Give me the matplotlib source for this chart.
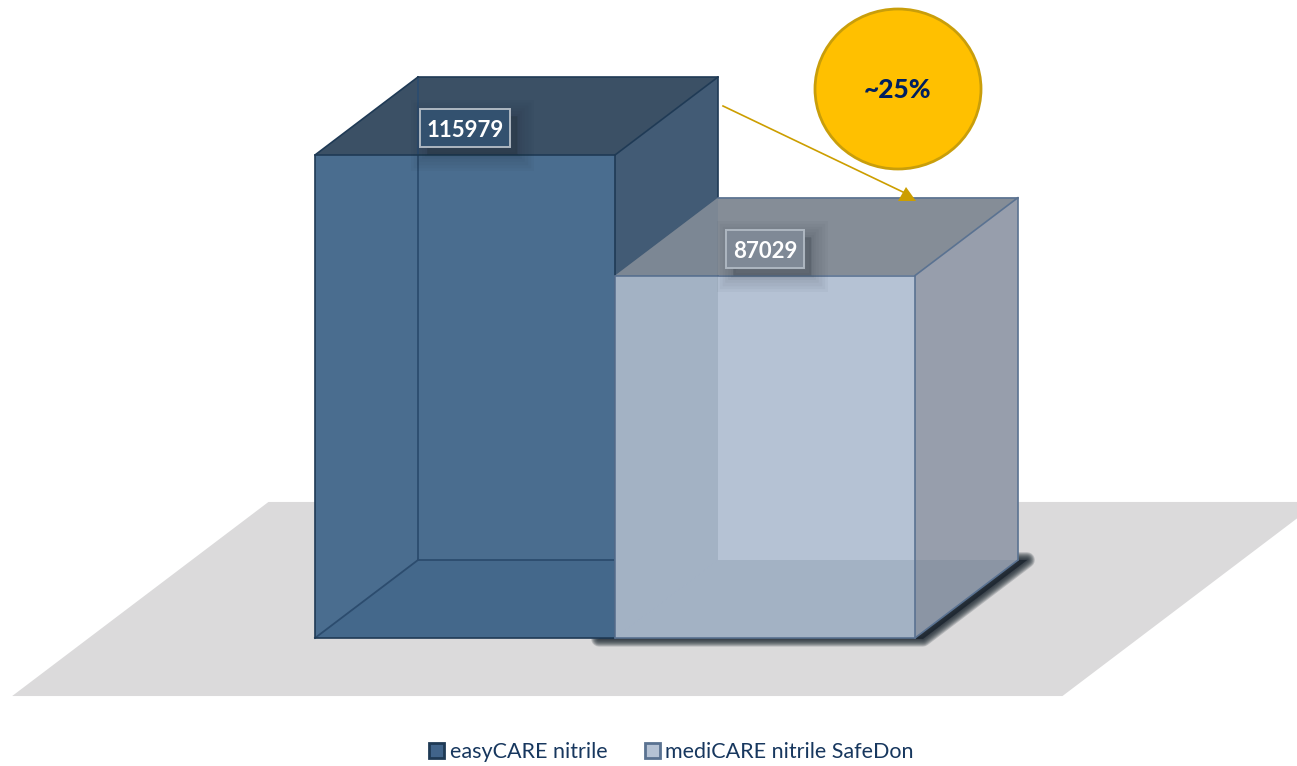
import matplotlib
matplotlib.use('Agg')
import matplotlib.pyplot as plt
from matplotlib.patches import Polygon, Ellipse, Patch, FancyBboxPatch

plt.rcParams['font.family'] = ['Lato', 'DejaVu Sans']

# data
products = ['easyCARE nitrile', 'mediCARE nitrile SafeDon']
counts = [115979, 87029]
note = '~25%'

W, H = 1297, 766
PX_PER_BAR = 300.0          # pixels for one bar width
PX_PER_UNIT = 483 / 115979  # pixels for one count
DEPTH_X = 103 / PX_PER_BAR
DEPTH_Y = 78 / PX_PER_UNIT

TEXT = '#17375E'
styles = [
    dict(front='#4A6D8F', top='#3B5065', side='#425B75', wash='#3E6288', wash_a=0.45,
         edge='#1F3A55', soft='#2C4C6E', swatch='#41648A', swatch_edge='#1F3A55'),
    dict(front='#B5C2D4', top='#858D97', side='#979EAC', wash='#5C7288', wash_a=0.2,
         edge='#5A7291', soft=None, swatch='#B5C2D4', swatch_edge='#5A7291'),
]


def project(x, depth, value):
    return (x + depth * DEPTH_X, value + depth * DEPTH_Y)


def face(ax, pts, color, edge='none', lw=0, alpha=None, z=3):
    ax.add_patch(Polygon([project(*p) for p in pts], closed=True, facecolor=color,
                         edgecolor=edge, linewidth=lw, alpha=alpha, zorder=z, joinstyle='round'))


def draw_box(ax, x, value, st, z):
    x2 = x + 1
    face(ax, [(x, 0, 0), (x2, 0, 0), (x2, 0, value), (x, 0, value)], st['front'], z=z)
    face(ax, [(x, 0, value), (x2, 0, value), (x2, 1, value), (x, 1, value)], st['top'], z=z)
    face(ax, [(x2, 0, 0), (x2, 1, 0), (x2, 1, value), (x2, 0, value)], st['side'], z=z)
    # inner faces seen through the front
    face(ax, [(x, 0, 0), (x2, 0, 0), (x2, 1, 0), (x, 1, 0)], st['wash'], alpha=st['wash_a'], z=z + .1)
    if x > 0:
        face(ax, [(x, 0, 0), (x, 1, 0), (x, 1, value), (x, 0, value)], st['wash'], alpha=st['wash_a'], z=z + .1)
    # inner lines
    if st['soft']:
        for a, b in [((x, 1, 0), (x, 1, value)), ((x, 1, 0), (x2, 1, 0)), ((x, 0, 0), (x, 1, 0))]:
            xs, ys = zip(project(*a), project(*b))
            ax.plot(xs, ys, color=st['soft'], lw=1.3, zorder=z + .2)
    # outer lines
    for a, b in [((x, 0, 0), (x2, 0, 0)), ((x2, 0, 0), (x2, 0, value)), ((x2, 0, value), (x, 0, value)),
                 ((x, 0, value), (x, 0, 0)), ((x, 0, value), (x, 1, value)), ((x, 1, value), (x2, 1, value)),
                 ((x2, 1, value), (x2, 0, value)), ((x2, 1, value), (x2, 1, 0)), ((x2, 1, 0), (x2, 0, 0))]:
        if x > 0 and a == (x, 0, value) and b == (x, 1, value):
            continue
        xs, ys = zip(project(*a), project(*b))
        ax.plot(xs, ys, color=st['edge'], lw=1.2, zorder=z + .3, solid_capstyle='round')


fig = plt.figure(figsize=(W / 100, H / 100), dpi=100)
ax = fig.add_axes([0, 0, 1, 1])
ax.set_xlim(-315 / PX_PER_BAR, (W - 315) / PX_PER_BAR)
ax.set_ylim(-(H - 638) / PX_PER_UNIT, 638 / PX_PER_UNIT)
ax.axis('off')

# floor
face(ax, [(-0.754, -0.744, 0), (2.747, -0.744, 0), (2.747, 1.744, 0), (-0.754, 1.744, 0)], '#DBDADB', z=1)

# shadow of the front bar on the floor
shadow = [project(0.95, -0.01, 0), project(2.03, -0.01, 0), project(2.03, 1.0, 0), project(0.95, 1.0, 0)]
for lw in [16, 14, 12, 10, 8, 6, 4, 2]:
    ax.add_patch(Polygon(shadow, closed=True, facecolor='#1C2630', edgecolor='#1C2630',
                         linewidth=lw * 0.7, alpha=0.2, zorder=2, joinstyle='round'))

for i, (value, st) in enumerate(zip(counts, styles)):
    draw_box(ax, i, value, st, z=3 + i)

# value labels
for i, value in enumerate(counts):
    lx = i + 0.5
    ly = value + 26.5 / PX_PER_UNIT
    bw = (90 if value > 99999 else 78) / PX_PER_BAR
    bh = 38 / PX_PER_UNIT
    for grow in [34, 28, 22, 16, 10, 5]:
        ax.add_patch(FancyBboxPatch((lx - bw / 2 + 7 / PX_PER_BAR, ly - bh / 2 - 7 / PX_PER_UNIT), bw, bh,
                                    boxstyle='square,pad=0', facecolor='#1C2630', edgecolor='#1C2630',
                                    linewidth=grow * 0.7, alpha=0.035, zorder=7))
    ax.add_patch(FancyBboxPatch((lx - bw / 2, ly - bh / 2), bw, bh, boxstyle='square,pad=0',
                                facecolor=('#33516F' if i == 0 else '#7F8996'), edgecolor='#AEB7C1',
                                linewidth=1.4, zorder=8))
    ax.text(lx, ly, str(value), color='white', fontsize=16, fontweight='bold',
            ha='center', va='center_baseline', zorder=9)

# callout, placed in figure pixels
tf = fig.transFigure
fig.add_artist(Ellipse((898 / W, 1 - 89 / H), 166 / W, 160 / H, transform=tf,
                       facecolor='#FFC000', edgecolor='#C99E0A', linewidth=2))
fig.text(898 / W, 1 - 90 / H, note, color='#002060', fontsize=19, fontweight='black', ha='center', va='center')
fig.add_artist(plt.Line2D([723 / W, 905 / W], [1 - 106 / H, 1 - 193 / H], transform=tf, color='#CC9E00', lw=1.2))
fig.add_artist(Polygon([(906 / W, 1 - 187 / H), (898 / W, 1 - 201 / H), (916 / W, 1 - 201 / H)], closed=True,
                       transform=tf, facecolor='#CC9E00', edgecolor='none'))

handles = [Patch(facecolor=st['swatch'], edgecolor=st['swatch_edge'], linewidth=2) for st in styles]
fig.legend(handles, products, loc='center', bbox_to_anchor=(671.5 / W, 1 - 752 / H), ncol=2, frameon=False,
           fontsize=15.5, labelcolor=TEXT, handlelength=0.7, handleheight=0.7, handletextpad=0.25,
           columnspacing=1.75, borderpad=0)

fig.savefig('out.png', dpi=100)
